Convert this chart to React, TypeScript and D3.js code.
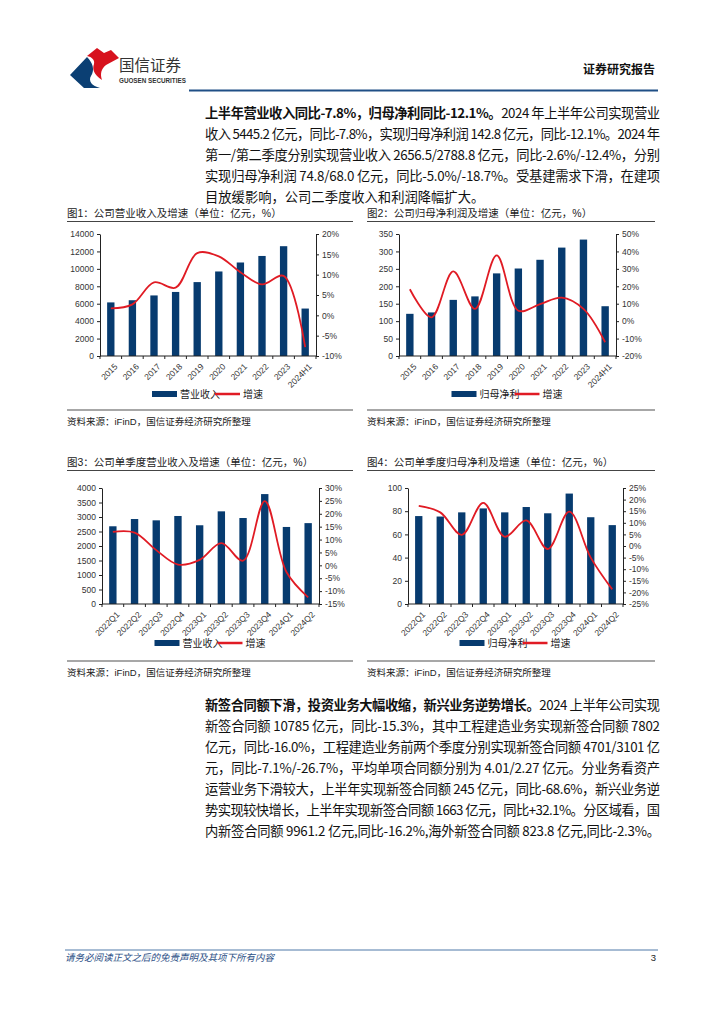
import { useEffect, useRef } from "react";
import * as d3 from "d3";

// ---- data ----
const YEARS = ["2015", "2016", "2017", "2018", "2019", "2020", "2021", "2022", "2023", "2024H1"];
const QUARTERS = ["2022Q1", "2022Q2", "2022Q3", "2022Q4", "2023Q1", "2023Q2", "2023Q3", "2023Q4", "2024Q1", "2024Q2"];

const REVENUE = [6150, 6400, 6950, 7350, 8480, 9700, 10730, 11480, 12600, 5445.2];
const REVENUE_YOY = [1.7, 2.7, 8.1, 6.8, 15.3, 14.5, 10.6, 7.6, 9.7, -7.8];

const PROFIT = [121, 125, 161, 171, 237, 251, 276, 311, 334, 142.8];
const PROFIT_YOY = [18.3, 2.2, 28.5, 7.0, 37.7, 6.0, 9.8, 13.5, 7.0, -12.1];

const Q_REVENUE = [2680, 2930, 2885, 3035, 2715, 3195, 2965, 3790, 2656.5, 2788.8];
const Q_REVENUE_YOY = [13.0, 12.7, 5.9, 0.3, 2.1, 8.6, 1.8, 24.9, -2.6, -12.4];

const Q_PROFIT = [75.8, 75.4, 79.0, 82.4, 79.0, 83.6, 78.2, 95.2, 74.8, 68.0];
const Q_PROFIT_YOY = [17.3, 14.5, 4.8, 18.6, 4.0, 11.0, -1.3, 14.8, -5.0, -18.7];

const REV_TICKS = [0, 2000, 4000, 6000, 8000, 10000, 12000, 14000];
const REV_PCT_TICKS = [-10, -5, 0, 5, 10, 15, 20];
const PROFIT_TICKS = [0, 50, 100, 150, 200, 250, 300, 350];
const PROFIT_PCT_TICKS = [-20, -10, 0, 10, 20, 30, 40, 50];
const Q_REV_TICKS = [0, 500, 1000, 1500, 2000, 2500, 3000, 3500, 4000];
const Q_REV_PCT_TICKS = [-15, -10, -5, 0, 5, 10, 15, 20, 25, 30];
const Q_PROFIT_TICKS = [0, 20, 40, 60, 80, 100];
const Q_PROFIT_PCT_TICKS = [-25, -20, -15, -10, -5, 0, 5, 10, 15, 20, 25];

const PARA1 = [
  ["上半年营业收入同比-7.8%，归母净利同比-12.1%。", "2024 年上半年公司实现营业"],
  ["", "收入 5445.2 亿元，同比-7.8%，实现归母净利润 142.8 亿元，同比-12.1%。2024 年"],
  ["", "第一/第二季度分别实现营业收入 2656.5/2788.8 亿元，同比-2.6%/-12.4%，分别"],
  ["", "实现归母净利润 74.8/68.0 亿元，同比-5.0%/-18.7%。受基建需求下滑，在建项"],
  ["", "目放缓影响，公司二季度收入和利润降幅扩大。"],
];
const PARA2 = [
  ["新签合同额下滑，投资业务大幅收缩，新兴业务逆势增长。", "2024 上半年公司实现"],
  ["", "新签合同额 10785 亿元，同比-15.3%，其中工程建造业务实现新签合同额 7802"],
  ["", "亿元，同比-16.0%，工程建造业务前两个季度分别实现新签合同额 4701/3101 亿"],
  ["", "元，同比-7.1%/-26.7%，平均单项合同额分别为 4.01/2.27 亿元。分业务看资产"],
  ["", "运营业务下滑较大，上半年实现新签合同额 245 亿元，同比-68.6%，新兴业务逆"],
  ["", "势实现较快增长，上半年实现新签合同额 1663 亿元，同比+32.1%。分区域看，国"],
  ["", "内新签合同额 9961.2 亿元,同比-16.2%,海外新签合同额 823.8 亿元,同比-2.3%。"],
];

const NAVY = "#073b6f";
const RED = "#e01b24";
const FONT = "'Liberation Sans', 'Noto Sans CJK SC', sans-serif";
const CJK = "'Noto Sans CJK SC', sans-serif";

interface ChartCfg {
  x0: number;
  w: number;
  titleY: number;
  title: string;
  plot: { left: number; right: number; top: number; bottom: number };
  legendY: number;
  sepY: number;
  categories: string[];
  bars: number[];
  growth: number[];
  leftDomain: [number, number];
  leftTicks: number[];
  rightDomain: [number, number];
  rightTicks: number[];
  barLabel: string;
}

function ComboChart({ cfg }: { cfg: ChartCfg }) {
  const ref = useRef<SVGGElement>(null);

  useEffect(() => {
    if (!ref.current) return;
    const g = d3.select(ref.current);
    g.selectAll("*").remove();
    const { left, right, top, bottom } = cfg.plot;

    const x = d3.scaleBand().domain(cfg.categories).range([left, right]).paddingInner(0.66).paddingOuter(0.33);
    const yL = d3.scaleLinear().domain(cfg.leftDomain).range([bottom, top]);
    const yR = d3.scaleLinear().domain(cfg.rightDomain).range([bottom, top]);
    const bw = x.bandwidth();

    // title + rules
    g.append("text").attr("x", cfg.x0).attr("y", cfg.titleY + 4).attr("font-size", 10.5)
      .attr("font-family", FONT).attr("fill", "#222").text(cfg.title);
    g.append("line").attr("x1", cfg.x0).attr("x2", cfg.x0 + cfg.w).attr("y1", cfg.titleY + 8.5).attr("y2", cfg.titleY + 8.5)
      .attr("stroke", "#444").attr("stroke-width", 1.1);
    g.append("line").attr("x1", cfg.x0).attr("x2", cfg.x0 + cfg.w).attr("y1", cfg.sepY).attr("y2", cfg.sepY)
      .attr("stroke", "#8a8a8a").attr("stroke-width", 1.5);
    g.append("text").attr("x", cfg.x0).attr("y", cfg.sepY + 15).attr("font-size", 9.5)
      .attr("font-family", FONT).attr("fill", "#222").text("资料来源：iFinD，国信证券经济研究所整理");

    // bars
    g.selectAll("rect.bar").data(cfg.bars).enter().append("rect")
      .attr("x", (_, i) => x(cfg.categories[i]) ?? 0)
      .attr("y", (d) => yL(d))
      .attr("width", bw)
      .attr("height", (d) => bottom - yL(d))
      .attr("fill", NAVY);

    // left axis
    const la = g.append("g").attr("transform", `translate(${left},0)`)
      .call(d3.axisLeft(yL).tickValues(cfg.leftTicks).tickSize(3).tickSizeOuter(0).tickPadding(3).tickFormat((d) => String(d)));
    // right axis
    const ra = g.append("g").attr("transform", `translate(${right},0)`)
      .call(d3.axisRight(yR).tickValues(cfg.rightTicks).tickSize(3).tickSizeOuter(0).tickPadding(3).tickFormat((d) => `${d}%`));
    [la, ra].forEach((a) => {
      a.selectAll("text").attr("font-size", 8.5).attr("font-family", FONT).attr("fill", "#333");
      a.selectAll("line").attr("stroke", "#222");
      a.select(".domain").attr("stroke", "#222");
    });

    // x axis
    g.append("line").attr("x1", left).attr("x2", right).attr("y1", bottom).attr("y2", bottom).attr("stroke", "#222");
    const half = (x.step() - bw) / 2;
    const bounds = [...cfg.categories.map((c) => (x(c) ?? 0) - half), right];
    g.selectAll("line.xt").data(bounds).enter().append("line")
      .attr("x1", (d) => d).attr("x2", (d) => d).attr("y1", bottom).attr("y2", bottom + 3).attr("stroke", "#222");
    g.selectAll("text.xl").data(cfg.categories).enter().append("text")
      .attr("transform", (c) => `translate(${(x(c) ?? 0) + bw / 2 + 3},${bottom + 7}) rotate(-45)`)
      .attr("text-anchor", "end").attr("dy", "0.7em")
      .attr("font-size", 8.5).attr("font-family", FONT).attr("fill", "#333").text((c) => c);

    // growth line
    const line = d3.line<number>()
      .x((_, i) => (x(cfg.categories[i]) ?? 0) + bw / 2)
      .y((d) => yR(d))
      .curve(d3.curveCatmullRom.alpha(0.5));
    g.append("path").attr("d", line(cfg.growth)).attr("fill", "none").attr("stroke", RED).attr("stroke-width", 1.8);

    // legend
    const cx = (left + right) / 2;
    const lg = g.append("g").attr("transform", `translate(${cx - 56},${cfg.legendY})`);
    lg.append("rect").attr("x", 0).attr("y", -3).attr("width", 25).attr("height", 6).attr("fill", NAVY);
    lg.append("text").attr("x", 28).attr("y", 3.5).attr("font-size", 10).attr("font-family", CJK).attr("fill", "#222").text(cfg.barLabel);
    lg.append("line").attr("x1", 63).attr("x2", 88).attr("y1", 0).attr("y2", 0).attr("stroke", RED).attr("stroke-width", 2.5);
    lg.append("text").attr("x", 91).attr("y", 3.5).attr("font-size", 10).attr("font-family", CJK).attr("fill", "#222").text("增速");
  }, [cfg]);

  return <g ref={ref} />;
}

const CHARTS: ChartCfg[] = [
  {
    x0: 67, w: 286, titleY: 213, title: "图1：公司营业收入及增速（单位：亿元，%）",
    plot: { left: 100, right: 316, top: 234, bottom: 356 }, legendY: 394, sepY: 410,
    categories: YEARS, bars: REVENUE, growth: REVENUE_YOY,
    leftDomain: [0, 14000], leftTicks: REV_TICKS, rightDomain: [-10, 20], rightTicks: REV_PCT_TICKS, barLabel: "营业收入",
  },
  {
    x0: 367, w: 288, titleY: 213, title: "图2：公司归母净利润及增速（单位：亿元，%）",
    plot: { left: 399, right: 616, top: 234, bottom: 356 }, legendY: 394, sepY: 410,
    categories: YEARS, bars: PROFIT, growth: PROFIT_YOY,
    leftDomain: [0, 350], leftTicks: PROFIT_TICKS, rightDomain: [-20, 50], rightTicks: PROFIT_PCT_TICKS, barLabel: "归母净利",
  },
  {
    x0: 67, w: 286, titleY: 462, title: "图3：公司单季度营业收入及增速（单位：亿元，%）",
    plot: { left: 102, right: 319, top: 488, bottom: 604 }, legendY: 643, sepY: 661,
    categories: QUARTERS, bars: Q_REVENUE, growth: Q_REVENUE_YOY,
    leftDomain: [0, 4000], leftTicks: Q_REV_TICKS, rightDomain: [-15, 30], rightTicks: Q_REV_PCT_TICKS, barLabel: "营业收入",
  },
  {
    x0: 367, w: 288, titleY: 462, title: "图4：公司单季度归母净利及增速（单位：亿元，%）",
    plot: { left: 408, right: 623, top: 488, bottom: 604 }, legendY: 643, sepY: 661,
    categories: QUARTERS, bars: Q_PROFIT, growth: Q_PROFIT_YOY,
    leftDomain: [0, 100], leftTicks: Q_PROFIT_TICKS, rightDomain: [-25, 25], rightTicks: Q_PROFIT_PCT_TICKS, barLabel: "归母净利",
  },
];

function Paragraph({ lines, y0, gap }: { lines: string[][]; y0: number; gap: number }) {
  return (
    <g fontFamily={CJK} fontSize={13.3} fill="#111">
      {lines.map(([b, t], i) => {
        const last = i === lines.length - 1 && i < 6;
        return (
          <text key={i} x={205} y={y0 + i * gap + 5}
            {...(last ? {} : { textLength: 455, lengthAdjust: "spacing" })}>
            {b && <tspan fontWeight="bold">{b}</tspan>}
            <tspan>{t}</tspan>
          </text>
        );
      })}
    </g>
  );
}

export default function App() {
  return (
    <svg width={724} height={1024} style={{ position: "absolute", left: 0, top: 0, background: "#fff" }}>
      {/* header */}
      <path d="M70,75 L87,57 C93,63 95,70 91,76 C88,81 92,86 100,88 L84,88 Z" fill="#0b3f73" />
      <path d="M87,56 L97,48 L104,53 L111,50 L119,58 L106,65 C101,69 100,74 102,80 C94,75 92,69 94,64 C95,60 92,57 87,56 Z" fill="#d7121d" />
      <text x={119} y={71} fontFamily={CJK} fontSize={15.5} fill="#333">国信证券</text>
      <text x={119} y={83} fontFamily={FONT} fontSize={6.3} fontWeight="bold" fill="#333">GUOSEN SECURITIES</text>
      <text x={655} y={74} textAnchor="end" fontFamily={CJK} fontSize={12} fontWeight="bold" fill="#111">证券研究报告</text>
      <line x1={189} x2={658} y1={90.5} y2={90.5} stroke="#1f4f86" strokeWidth={2} />

      <Paragraph lines={PARA1} y0={113} gap={21} />

      {CHARTS.map((c, i) => <ComboChart key={i} cfg={c} />)}

      <Paragraph lines={PARA2} y0={705} gap={21} />

      {/* footer */}
      <line x1={65} x2={658} y1={950} y2={950} stroke="#4f79a8" strokeWidth={1} />
      <text x={65} y={961} fontFamily={CJK} fontSize={9.5} fontStyle="italic" fill="#2c4f86">请务必阅读正文之后的免责声明及其项下所有内容</text>
      <text x={656} y={961} textAnchor="end" fontFamily={FONT} fontSize={9.5} fill="#222">3</text>
    </svg>
  );
}
